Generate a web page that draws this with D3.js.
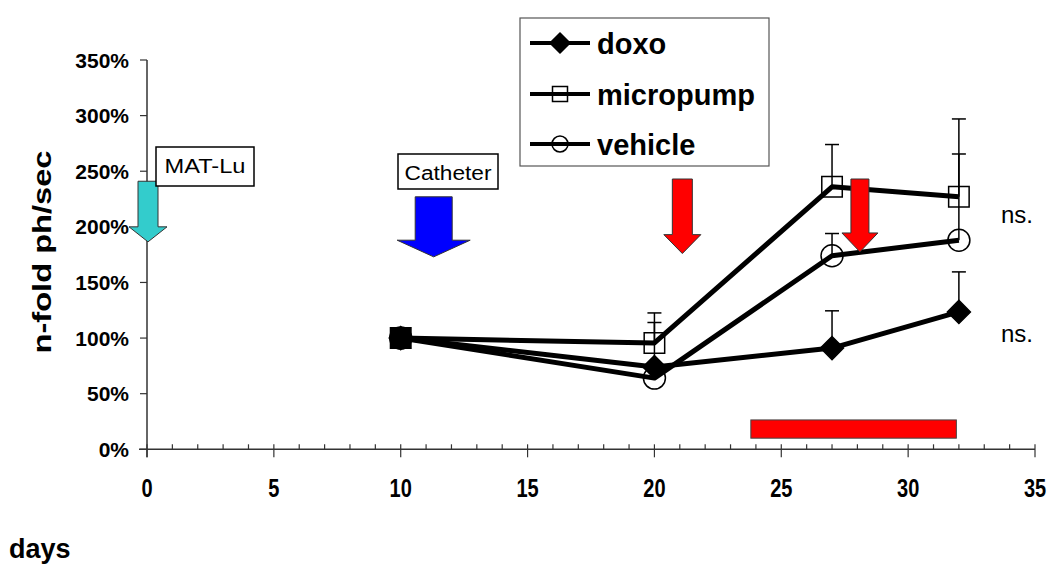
<!DOCTYPE html>
<html>
<head>
<meta charset="utf-8">
<script src="https://cdn.jsdelivr.net/npm/d3@7"></script>
<style>
  body { margin: 0; background: #fff; }
  svg { display: block; font-family: "Liberation Sans", Arial, sans-serif; }
</style>
</head>
<body>
<div id="chart"></div>
<script>
// data
const days = [10, 20, 27, 32];
const doxo = [1.00, 0.74, 0.91, 1.235];
const micropump = [1.00, 0.956, 2.36, 2.27];
const vehicle = [1.00, 0.64, 1.74, 1.88];
// upper error (added to mean)
const doxoErr = [0, 0, 0.335, 0.36];
const micropumpErr = [0, 0.27, 0.38, 0.70];
const vehicleErr = [0, 0.50, 0.20, 0.775];

const seriesNames = ["doxo", "micropump", "vehicle"];
const xTicks = [0, 5, 10, 15, 20, 25, 30, 35];
const yTicks = [0, 0.5, 1, 1.5, 2, 2.5, 3, 3.5];

// treatment period bar (days, value range)
const treatStart = 23.8, treatEnd = 31.9;
const treatLow = 0.10, treatHigh = 0.264;

// event arrows: day, top value, head base value, tip value
const arrowDay = [0.04, 11.3, 21.1, 28.1];
const arrowTop = [2.41, 2.27, 2.43, 2.43];
const arrowBase = [2.0, 1.88, 1.93, 1.945];
const arrowTip = [1.865, 1.73, 1.76, 1.775];
const arrowColor = ["#33cccc", "#0000ff", "#ff0000", "#ff0000"];
const arrowShaft = [20, 37, 20, 18];
const arrowHead = [38, 73, 37, 36];

const W = 1050, H = 567;
const svg = d3.select("#chart").append("svg")
    .attr("width", W).attr("height", H);

const x = d3.scaleLinear().domain([0, 35]).range([147, 1035]);
const y = d3.scaleLinear().domain([0, 3.5]).range([449.3, 60]);

// axes
const axisColor = "#333";
svg.append("line")
    .attr("x1", 139).attr("x2", x(35))
    .attr("y1", y(0)).attr("y2", y(0))
    .attr("stroke", axisColor).attr("stroke-width", 1.5);
svg.append("line")
    .attr("x1", x(0)).attr("x2", x(0))
    .attr("y1", y(3.5)).attr("y2", y(0) + 8)
    .attr("stroke", axisColor).attr("stroke-width", 1.5);

// minor ticks every day
svg.selectAll(".minor").data(d3.range(0, 36))
    .enter().append("line")
    .attr("x1", d => x(d)).attr("x2", d => x(d))
    .attr("y1", y(0) - 5).attr("y2", d => d % 5 === 0 ? y(0) + 8 : y(0))
    .attr("stroke", axisColor).attr("stroke-width", 1.2);

// x labels are condensed in the original
svg.selectAll(".xlab").data(xTicks)
    .enter().append("text")
    .attr("transform", d => `translate(${x(d)},497) scale(0.8,1)`)
    .attr("text-anchor", "middle")
    .style("font-weight", "bold").style("font-size", "25px")
    .text(d => d);

svg.selectAll(".ytick").data(yTicks)
    .enter().append("line")
    .attr("x1", x(0) - 7).attr("x2", x(0))
    .attr("y1", d => y(d)).attr("y2", d => y(d))
    .attr("stroke", axisColor).attr("stroke-width", 1.2);

svg.selectAll(".ylab").data(yTicks)
    .enter().append("text")
    .attr("x", 129).attr("y", d => y(d) + 7.5)
    .attr("text-anchor", "end")
    .style("font-weight", "bold").style("font-size", "21px")
    .text(d => Math.round(d * 100) + "%");

svg.append("text")
    .attr("transform", "translate(51,252) rotate(-90)")
    .attr("text-anchor", "middle")
    .attr("textLength", 203).attr("lengthAdjust", "spacingAndGlyphs")
    .style("font-weight", "bold").style("font-size", "26px")
    .text("n-fold ph/sec");

svg.append("text")
    .attr("x", 9).attr("y", 558)
    .style("font-weight", "bold").style("font-size", "27px")
    .text("days");

// treatment bar
svg.append("rect")
    .attr("x", x(treatStart)).attr("y", y(treatHigh))
    .attr("width", x(treatEnd) - x(treatStart))
    .attr("height", y(treatLow) - y(treatHigh))
    .attr("fill", "#ff0000").attr("stroke", "#444").attr("stroke-width", 1);

// series
const series = [
    { name: "vehicle", values: vehicle, err: vehicleErr, symbol: d3.symbolCircle, size: 380, fill: "none", rot: 0 },
    { name: "micropump", values: micropump, err: micropumpErr, symbol: d3.symbolSquare, size: 420, fill: "none", rot: 0 },
    { name: "doxo", values: doxo, err: doxoErr, symbol: d3.symbolSquare, size: 265, fill: "#000", rot: 45 }
];

const line = d3.line().x((d, i) => x(days[i])).y(d => y(d));

series.forEach(s => {
    // error bars
    const g = svg.append("g");
    s.values.forEach((v, i) => {
        if (!s.err[i]) return;
        g.append("line")
            .attr("x1", x(days[i])).attr("x2", x(days[i]))
            .attr("y1", y(v)).attr("y2", y(v + s.err[i]))
            .attr("stroke", "#000").attr("stroke-width", 1.5);
        g.append("line")
            .attr("x1", x(days[i]) - 7).attr("x2", x(days[i]) + 7)
            .attr("y1", y(v + s.err[i])).attr("y2", y(v + s.err[i]))
            .attr("stroke", "#000").attr("stroke-width", 1.5);
    });
});

series.forEach(s => {
    svg.append("path")
        .datum(s.values)
        .attr("d", line)
        .attr("fill", "none")
        .attr("stroke", "#000")
        .attr("stroke-width", 5)
        .attr("stroke-linejoin", "round");
});

series.forEach(s => {
    svg.selectAll(".m-" + s.name).data(s.values)
        .enter().append("path")
        .attr("transform", (d, i) => `translate(${x(days[i])},${y(d)}) rotate(${s.rot})`)
        .attr("d", d3.symbol().type(s.symbol).size(s.size))
        // where all three markers coincide the original shows a solid block
        .attr("fill", (d, i) => days[i] === 10 && s.name === "micropump" ? "#000" : s.fill)
        .attr("stroke", "#000")
        .attr("stroke-width", 1.5);
});

// arrows
arrowDay.forEach((d, i) => {
    const cx = x(d), sw = arrowShaft[i] / 2, hw = arrowHead[i] / 2;
    const top = y(arrowTop[i]), base = y(arrowBase[i]), tip = y(arrowTip[i]);
    const pts = [
        [cx - sw, top], [cx + sw, top], [cx + sw, base], [cx + hw, base],
        [cx, tip], [cx - hw, base], [cx - sw, base]
    ];
    svg.append("path")
        .attr("d", "M" + pts.join("L") + "Z")
        .attr("fill", arrowColor[i])
        .attr("stroke", "#333").attr("stroke-width", 1);
});

// callout boxes
function callout(x0, y0, w, h, label, baseline, len) {
    svg.append("rect")
        .attr("x", x0).attr("y", y0).attr("width", w).attr("height", h)
        .attr("fill", "#fff").attr("stroke", "#000").attr("stroke-width", 1.5);
    svg.append("text")
        .attr("x", x0 + w / 2).attr("y", baseline)
        .attr("text-anchor", "middle")
        .attr("textLength", len).attr("lengthAdjust", "spacingAndGlyphs")
        .style("font-size", "20px")
        .text(label);
}
callout(156, 147, 98, 39, "MAT-Lu", 173, 81);
callout(398, 154, 100, 35, "Catheter", 180, 87);

// ns. labels
svg.selectAll(".ns").data([223, 342])
    .enter().append("text")
    .attr("x", 1001).attr("y", d => d)
    .style("font-size", "24px")
    .text("ns.");

// legend
svg.append("rect")
    .attr("x", 520).attr("y", 18).attr("width", 249).attr("height", 148)
    .attr("fill", "#fff").attr("stroke", "#555").attr("stroke-width", 1.2);

const legendY = [43, 94, 144];
const legendSym = [
    { symbol: d3.symbolSquare, size: 200, fill: "#000", rot: 45 },
    { symbol: d3.symbolSquare, size: 225, fill: "#fff", rot: 0 },
    { symbol: d3.symbolCircle, size: 200, fill: "#fff", rot: 0 }
];
seriesNames.forEach((n, i) => {
    svg.append("line")
        .attr("x1", 530).attr("x2", 590)
        .attr("y1", legendY[i]).attr("y2", legendY[i])
        .attr("stroke", "#000").attr("stroke-width", 4);
    svg.append("path")
        .attr("transform", `translate(560,${legendY[i]}) rotate(${legendSym[i].rot})`)
        .attr("d", d3.symbol().type(legendSym[i].symbol).size(legendSym[i].size))
        .attr("fill", legendSym[i].fill === "#fff" ? "none" : legendSym[i].fill)
        .attr("stroke", "#000").attr("stroke-width", 1.5);
    svg.append("text")
        .attr("x", 597).attr("y", legendY[i] + 11)
        .style("font-weight", "bold").style("font-size", "29px")
        .text(n);
});
</script>
</body>
</html>
